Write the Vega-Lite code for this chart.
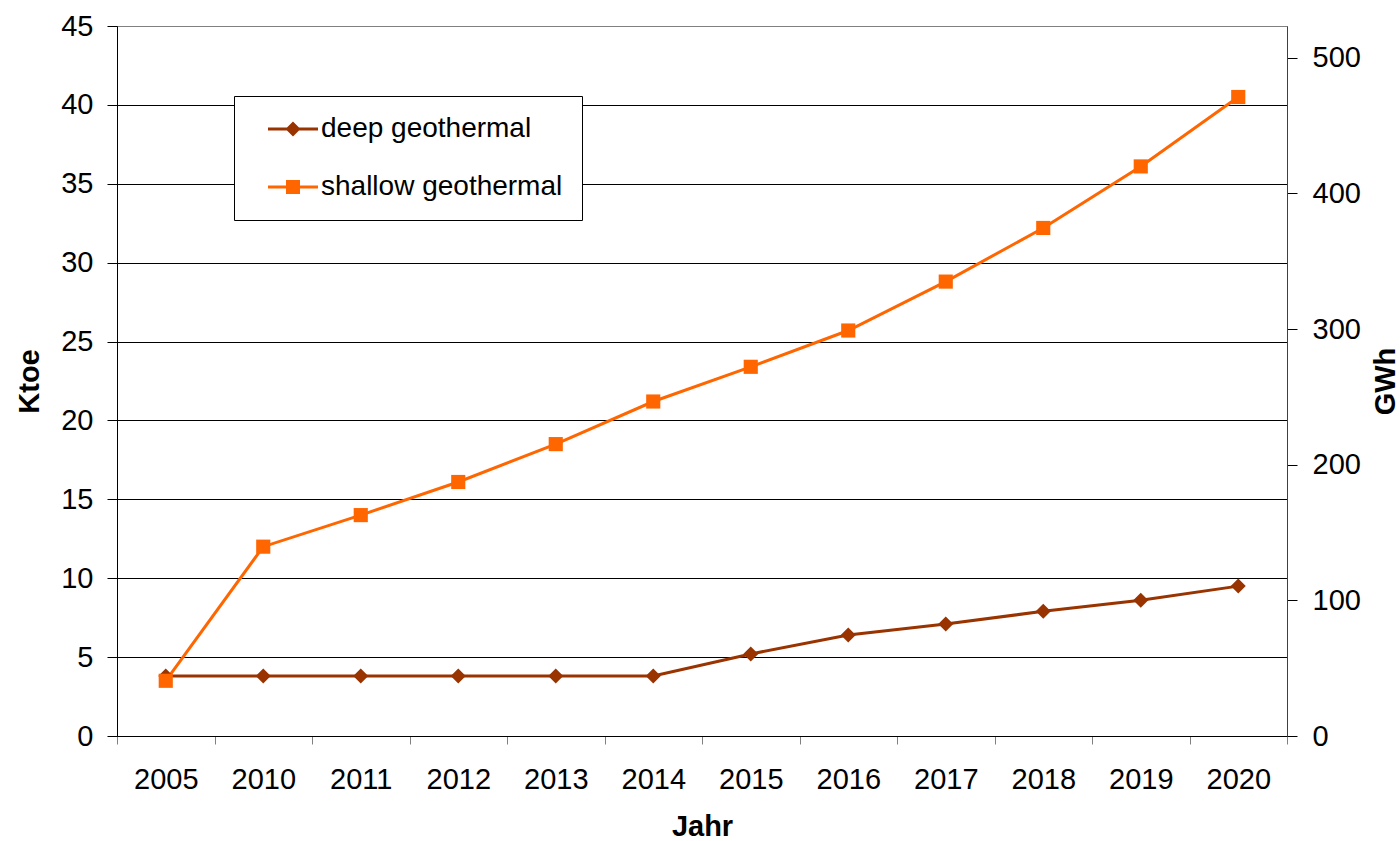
{
  "$schema": "https://vega.github.io/schema/vega-lite/v6.json",
  "width": 1170,
  "height": 710,
  "autosize": {"type": "none"},
  "padding": {"left": 117, "top": 26, "right": 113, "bottom": 105},
  "background": "white",
  "view": {"stroke": "#808080", "strokeWidth": 1},
  "config": {
    "font": "Liberation Sans",
    "axis": {"labelFont": "Liberation Sans", "titleFont": "Liberation Sans", "labelFontSize": 29, "titleFontSize": 29, "labelColor": "black", "titleColor": "black", "titleFontWeight": "bold"}
  },
  "data": {
    "values": [
      {"year": "2005", "series": "deep geothermal", "value": 3.8},
      {"year": "2010", "series": "deep geothermal", "value": 3.8},
      {"year": "2011", "series": "deep geothermal", "value": 3.8},
      {"year": "2012", "series": "deep geothermal", "value": 3.8},
      {"year": "2013", "series": "deep geothermal", "value": 3.8},
      {"year": "2014", "series": "deep geothermal", "value": 3.8},
      {"year": "2015", "series": "deep geothermal", "value": 5.2},
      {"year": "2016", "series": "deep geothermal", "value": 6.4},
      {"year": "2017", "series": "deep geothermal", "value": 7.1},
      {"year": "2018", "series": "deep geothermal", "value": 7.9},
      {"year": "2019", "series": "deep geothermal", "value": 8.6},
      {"year": "2020", "series": "deep geothermal", "value": 9.5},
      {"year": "2005", "series": "shallow geothermal", "value": 3.5},
      {"year": "2010", "series": "shallow geothermal", "value": 12.0},
      {"year": "2011", "series": "shallow geothermal", "value": 14.0},
      {"year": "2012", "series": "shallow geothermal", "value": 16.1},
      {"year": "2013", "series": "shallow geothermal", "value": 18.5},
      {"year": "2014", "series": "shallow geothermal", "value": 21.2},
      {"year": "2015", "series": "shallow geothermal", "value": 23.4},
      {"year": "2016", "series": "shallow geothermal", "value": 25.7},
      {"year": "2017", "series": "shallow geothermal", "value": 28.8},
      {"year": "2018", "series": "shallow geothermal", "value": 32.2},
      {"year": "2019", "series": "shallow geothermal", "value": 36.1},
      {"year": "2020", "series": "shallow geothermal", "value": 40.5}
    ]
  },
  "resolve": {"scale": {"y": "independent"}, "axis": {"y": "independent"}},
  "layer": [
    {
      "layer": [
        {
          "mark": {"type": "line", "strokeWidth": 3},
          "encoding": {
            "x": {"field": "year", "type": "ordinal", "sort": null, "scale": {"type": "band", "paddingInner": 0, "paddingOuter": 0},
              "axis": {"title": "Jahr", "labelAngle": 0, "tickBand": "extent", "tickSize": 8, "tickColor": "#808080", "domainColor": "black", "labelPadding": 21, "titlePadding": 18, "grid": false}},
            "y": {"field": "value", "type": "quantitative", "scale": {"domain": [0, 45], "nice": false},
              "axis": {"title": "Ktoe", "values": [0,5,10,15,20,25,30,35,40,45], "grid": true,
                "gridColor": {"condition": {"test": "datum.value == 45", "value": "#808080"}, "value": "black"},
                "gridOpacity": 1, "gridWidth": 1, "tickSize": 10, "tickColor": "black", "domainColor": "black", "labelPadding": 14, "titlePadding": 16}},
            "color": {"field": "series", "type": "nominal", "scale": {"domain": ["deep geothermal", "shallow geothermal"], "range": ["#993300", "#FF6600"]},
              "legend": {"title": null, "orient": "none", "legendX": 117, "legendY": 70, "strokeColor": "black", "fillColor": "white", "padding": 19, "symbolSize": 784, "rowPadding": 30, "labelOffset": 40, "labelFontSize": 28, "labelFont": "Liberation Sans", "labelColor": "black", "labelLimit": 500,
                "encode": {"symbols": {"update": {
                  "shape": {"signal": "datum.value === 'deep geothermal' ? 'M0.071,-0.107H3.643V0.107H0.071Z M1.857,-0.536L2.393,0L1.857,0.536L1.321,0Z' : 'M0.071,-0.107H3.643V0.107H0.071Z M1.357,-0.5H2.357V0.5H1.357Z'"},
                  "fill": {"signal": "datum.value === 'deep geothermal' ? '#993300' : '#FF6600'"},
                  "fillOpacity": {"value": 1},
                  "size": {"value": 784},
                  "strokeWidth": {"value": 0}
                }}}}}
          }
        },
        {
          "transform": [{"filter": "datum.series === 'deep geothermal'"}],
          "mark": {"type": "point", "filled": true, "opacity": 1, "shape": "diamond", "size": 225},
          "encoding": {
            "x": {"field": "year", "type": "ordinal", "sort": null},
            "y": {"field": "value", "type": "quantitative"},
            "color": {"field": "series", "type": "nominal"}
          }
        },
        {
          "transform": [{"filter": "datum.series === 'shallow geothermal'"}],
          "mark": {"type": "point", "filled": true, "opacity": 1, "shape": "square", "size": 200},
          "encoding": {
            "x": {"field": "year", "type": "ordinal", "sort": null},
            "y": {"field": "value", "type": "quantitative"},
            "color": {"field": "series", "type": "nominal"}
          }
        }
      ]
    },
    {
      "mark": {"type": "point", "opacity": 0},
      "encoding": {
        "x": {"field": "year", "type": "ordinal", "sort": null},
        "y": {"field": "value", "type": "quantitative", "scale": {"domain": [0, 523.35], "nice": false},
          "axis": {"orient": "right", "title": "GWh", "titleAngle": -90, "titleBaseline": "top", "values": [0,100,200,300,400,500], "grid": false, "tickSize": 10, "tickColor": "black", "domainColor": "#404040", "labelPadding": 15, "titlePadding": 11}}
      }
    }
  ]
}
